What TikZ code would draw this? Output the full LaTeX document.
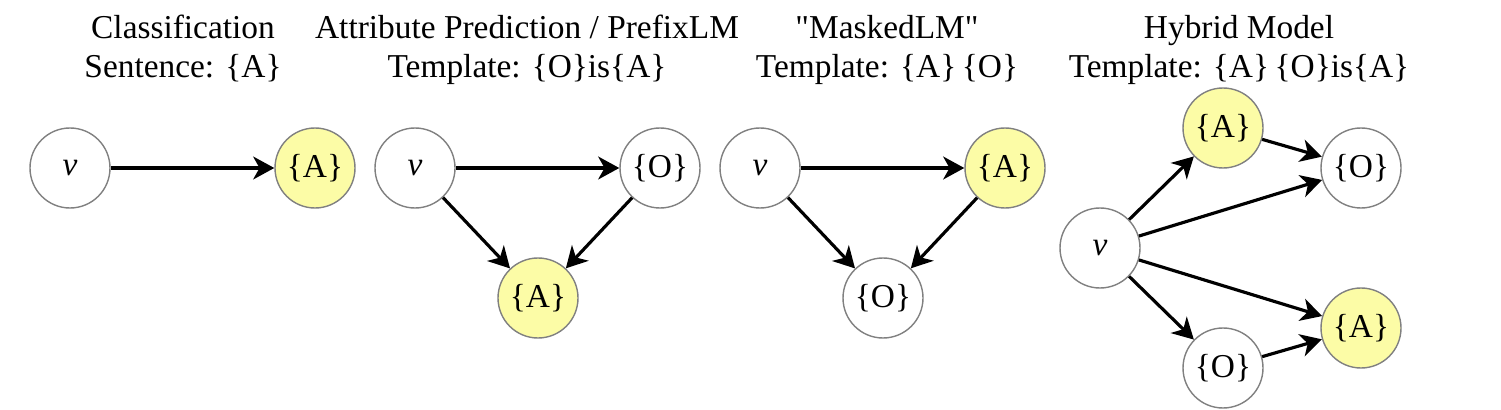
\documentclass[tikz,border=0pt]{standalone}
\usepackage{fontspec}
\setmainfont{Liberation Serif}
\newfontfamily\rawquote{Liberation Serif}
\usetikzlibrary{arrows.meta}

\definecolor{attrfill}{RGB}{252,252,166}

\begin{document}
\begin{tikzpicture}[
    font=\fontsize{9.5}{11.2}\selectfont,
    var/.style={circle, draw=black!50, line width=0.4pt, fill=white, minimum size=0.8cm, inner sep=0pt},
    attr/.style={var, fill=attrfill},
    title/.style={anchor=base},
    edge/.style={line width=0.9pt, -{Stealth[length=6pt,width=6.5pt,inset=1.8pt]}}
  ]
    \useasboundingbox (0,0) rectangle (15.01,-4.10);

    % titles
    \node[title] (t1) at (1.83,-0.39) {Classification};
    \node[title] (s1) at (1.83,-0.78) {Sentence: \{A\}};
    \node[title] (t2) at (5.27,-0.39) {Attribute Prediction / PrefixLM};
    \node[title] (s2) at (5.27,-0.78) {Template: \{O\}is\{A\}};
    \node[title] (t3) at (8.87,-0.39) {\rawquote "MaskedLM"};
    \node[title] (s3) at (8.87,-0.78) {Template: \{A\}\,\{O\}};
    \node[title] (t4) at (12.39,-0.39) {Hybrid Model};
    \node[title] (s4) at (12.39,-0.78) {Template: \{A\}\,\{O\}is\{A\}};

    % classification
    \node[var] (cv) at (0.70,-1.68) {\textit{v}};
    \node[attr] (ca) at (3.15,-1.68) {\{A\}};
    \draw[edge] (cv) -- (ca);

    % attribute prediction
    \node[var] (pv) at (4.15,-1.68) {\textit{v}};
    \node[var] (po) at (6.60,-1.68) {\{O\}};
    \node[attr] (pa) at (5.38,-2.98) {\{A\}};
    \draw[edge] (pv) -- (po);
    \draw[edge] (pv) -- (pa);
    \draw[edge] (po) -- (pa);

    % masked lm
    \node[var] (mv) at (7.60,-1.68) {\textit{v}};
    \node[attr] (ma) at (10.05,-1.68) {\{A\}};
    \node[var] (mo) at (8.83,-2.98) {\{O\}};
    \draw[edge] (mv) -- (ma);
    \draw[edge] (mv) -- (mo);
    \draw[edge] (ma) -- (mo);

    % hybrid
    \node[var] (hv) at (11.00,-2.48) {\textit{v}};
    \node[attr] (ha1) at (12.23,-1.28) {\{A\}};
    \node[var] (ho1) at (13.61,-1.68) {\{O\}};
    \node[attr] (ha2) at (13.61,-3.28) {\{A\}};
    \node[var] (ho2) at (12.23,-3.68) {\{O\}};
    \draw[edge] (hv) -- (ha1);
    \draw[edge] (ha1) -- (ho1);
    \draw[edge] (hv) -- (ho1);
    \draw[edge] (hv) -- (ha2);
    \draw[edge] (hv) -- (ho2);
    \draw[edge] (ho2) -- (ha2);
\end{tikzpicture}
\end{document}
